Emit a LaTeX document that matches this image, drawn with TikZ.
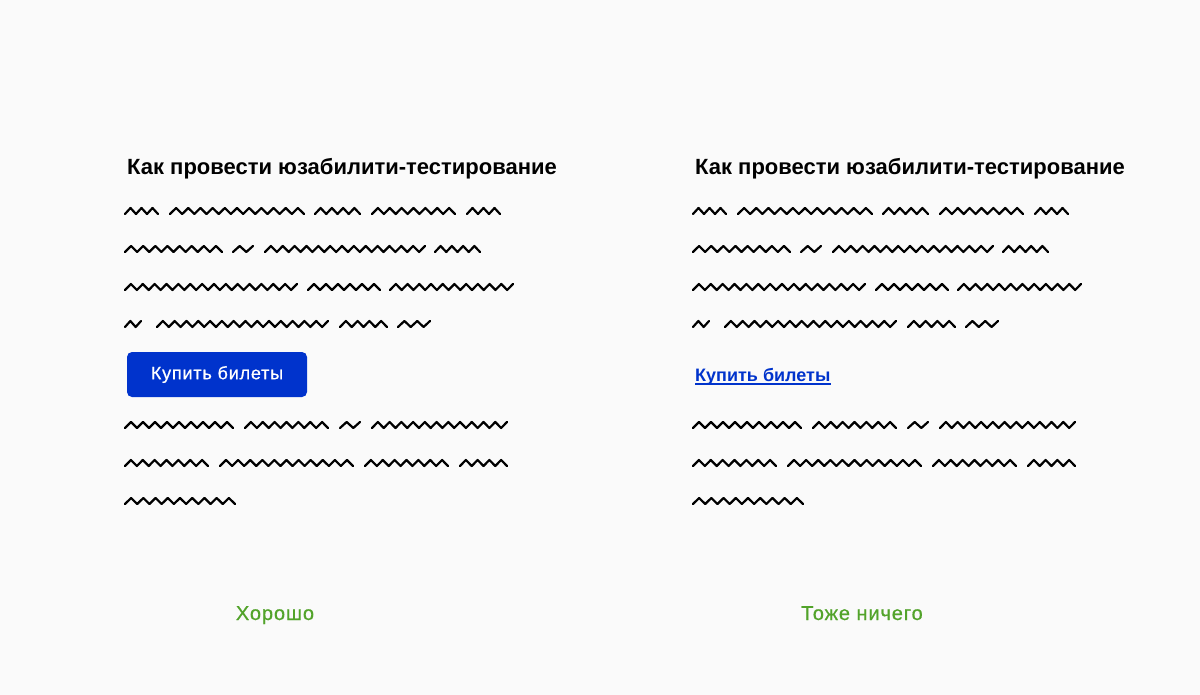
\documentclass[tikz,border=0pt]{standalone}
\usepackage{fontspec}
\setmainfont{Liberation Sans}
\newfontfamily\mediumfont[FakeBold=0.6, LetterSpace=4.5]{Liberation Sans}
\usepackage{tikz}
\definecolor{pagebg}{HTML}{FAFAFA}
\definecolor{btnblue}{HTML}{0033CC}
\definecolor{okgreen}{HTML}{52A32A}

\begin{document}
\begin{tikzpicture}[
    x=1pt, y=-1pt,
    heading/.style={anchor=base west, inner sep=0pt, font=\fontsize{22}{26}\bfseries\selectfont},
    squig/.style={line width=2.2pt, line join=round, line cap=round},
    button/.style={fill=btnblue, rounded corners=5pt, text=white, minimum width=180pt,
        minimum height=45pt, inner sep=0pt, font=\fontsize{18}{22}\mediumfont},
    textlink/.style={anchor=base west, inner sep=0pt, text=btnblue,
        font=\fontsize{18}{22}\bfseries\selectfont},
    verdict/.style={anchor=base, text=okgreen, inner sep=0pt, font=\fontsize{20}{24}\mediumfont}
]
    % Page
    \fill[pagebg] (0,0) rectangle (1200,695);
    \useasboundingbox (0,0) rectangle (1200,695);

    % Headings
    \node[heading] (title1) at (127, 175) {Как провести юзабилити-тестирование};
    \node[heading] (title2) at (695, 175) {Как провести юзабилити-тестирование};

    % Placeholder text (both columns, right one shifted by 568)
    \foreach \dx in {0, 568} {
        \foreach \a/\b/\r in {125/158/211, 170/304/211, 315/360/211, 372/455/211, 467/500/211,
                              125/222/249, 233/253/249, 265/425/249, 435/480/249,
                              125/297/287, 308/380/287, 390/513/287,
                              125/141/324, 157/328/324, 340/387/324, 398/430/324,
                              125/233/425, 245/328/425, 340/360/425, 372/507/425,
                              125/208/463, 220/353/463, 365/448/463, 460/507/463,
                              125/235/501} {
            \pgfmathtruncatemacro\n{round((\b-\a)/6)}
            \pgfmathtruncatemacro\ns{\n+1}
            \pgfmathsetmacro\st{(\b-\a)/\n}
            \draw[squig] plot[domain=0:\n, samples=\ns] ({\a+\dx+\x*\st}, {\r+3*cos(180*\x)});
        }
    }

    % Left: button
    \node[button] (btn) at (217, 374.5) {Купить билеты};

    % Right: plain link
    \node[textlink] (link) at (695, 381) {Купить билеты};
    \draw[btnblue, line width=1.5pt] ([yshift=-3pt]link.base west) -- ([yshift=-3pt]link.base east);

    % Verdicts
    \node[verdict] (good) at (275, 620) {Хорошо};
    \node[verdict] (okay) at (862, 620) {Тоже ничего};
\end{tikzpicture}
\end{document}
